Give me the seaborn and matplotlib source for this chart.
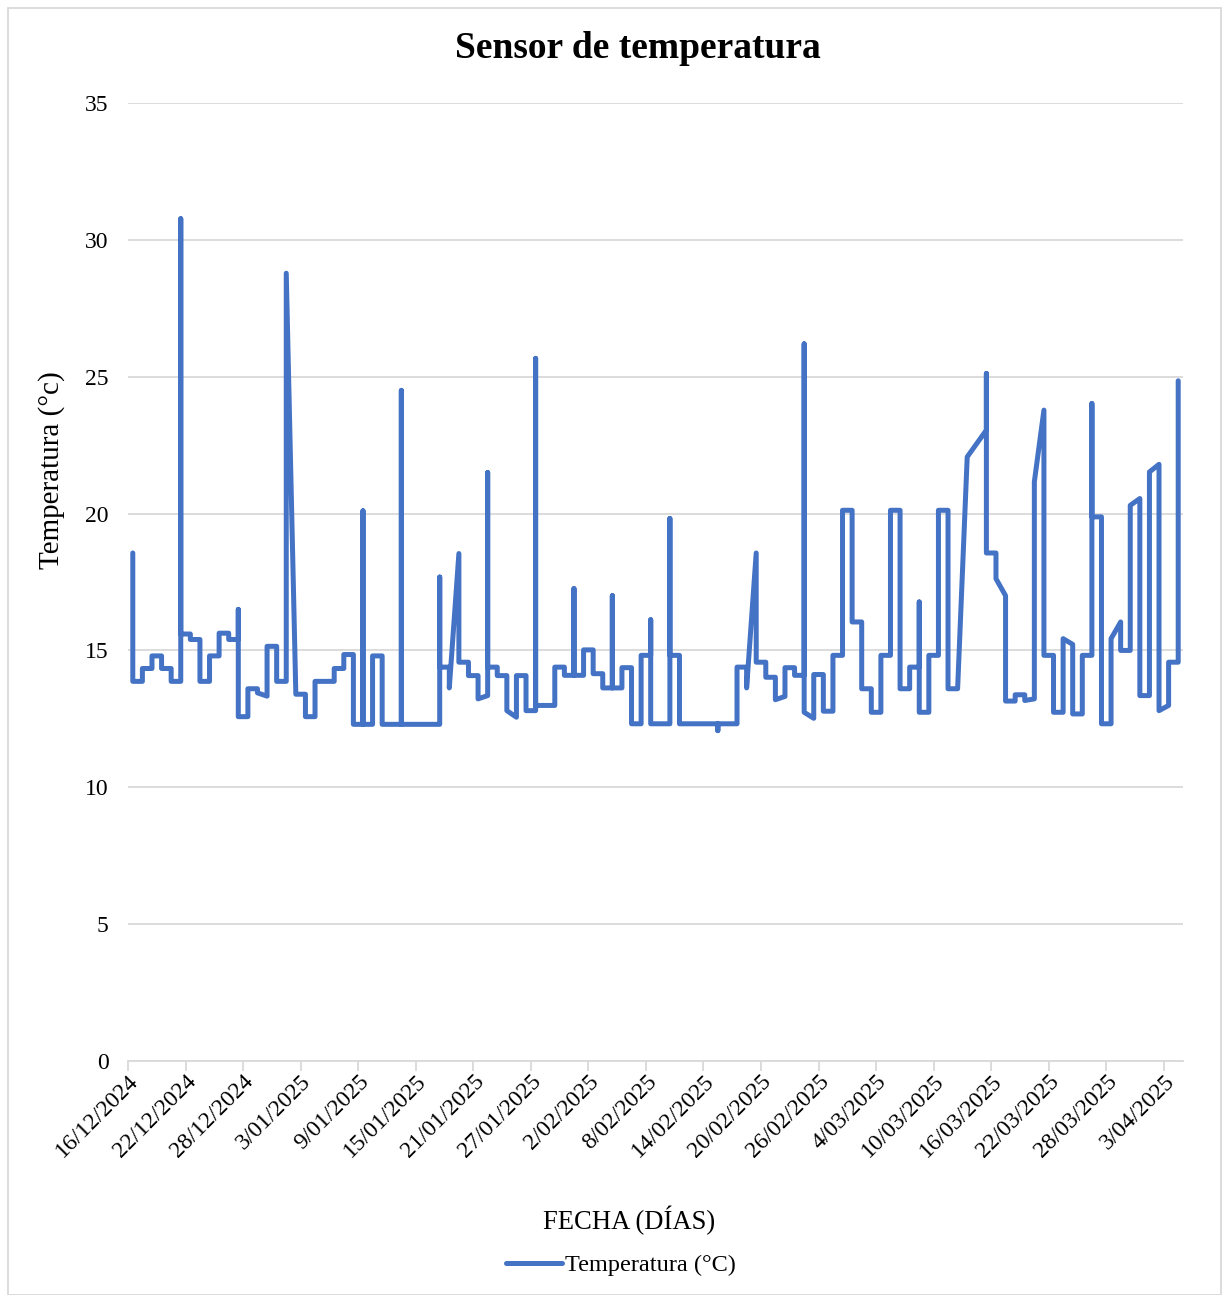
import numpy as np
import pandas as pd
import matplotlib
matplotlib.use("Agg")
import matplotlib.pyplot as plt
import seaborn as sns
from matplotlib.patches import Rectangle

# ---------------- data ----------------
start_date = "2024-12-16"
end_date = "2025-04-05"
tick_step_days = 6

# day offset from start_date for every reading (several readings may share a day)
day_offset = [
    0, 0, 1, 1, 2, 2, 3, 3, 4, 4,
    5, 5, 5, 6, 6, 7, 7, 8, 8, 9, 9, 10, 10,
    11, 11, 11, 12, 12, 13, 13, 14, 14, 15, 15, 16, 16,
    17, 18, 18, 19, 19, 20, 21, 21, 22, 22, 23, 23,
    24, 24, 24, 25, 25, 26, 26, 27, 28, 28, 28, 29, 30, 31,
    32, 32, 32, 33, 33, 34, 34, 35, 35, 36, 36, 37, 37, 37,
    38, 38, 39, 39, 40, 40, 41, 41, 42, 42, 42, 43, 44, 44,
    45, 45, 46, 46, 46, 47, 47, 48, 48, 49, 49, 50, 50, 50,
    51, 51, 52, 52, 53, 53, 54, 54, 54, 55, 56, 56, 56, 57, 57,
    58, 59, 60, 61, 61, 61, 62, 63, 63, 64, 64, 65, 65,
    66, 66, 67, 67, 68, 68, 69, 69, 70, 70, 70, 71, 71, 72, 72,
    73, 73, 74, 74, 74, 75, 75, 75, 75, 76, 76, 77, 77, 78, 78, 79, 79,
    80, 80, 81, 81, 82, 82, 82, 83, 83, 84, 84, 85, 85, 86,
    87, 89, 89, 89, 90, 90, 91, 91, 92, 92, 93, 93, 94, 94,
    95, 95, 96, 96, 97, 97, 98, 98, 99, 99, 100, 100, 100,
    101, 101, 102, 102, 103, 103, 104, 104, 105, 105, 106, 106,
    107, 107, 108, 108, 109, 109,
]
temps = [
    18.56, 13.87, 13.87, 14.34, 14.34, 14.80, 14.80, 14.34, 14.34, 13.87,
    13.87, 30.77, 15.60, 15.60, 15.40, 15.40, 13.87, 13.87, 14.80, 14.80, 15.63, 15.63, 15.40,
    15.40, 16.50, 12.58, 12.58, 13.60, 13.60, 13.45, 13.33, 15.15, 15.15, 13.87, 13.87, 28.78,
    13.40, 13.40, 12.58, 12.58, 13.87, 13.87, 13.87, 14.34, 14.34, 14.85, 14.85, 12.30,
    12.30, 20.10, 12.30, 12.30, 14.80, 14.80, 12.30, 12.30, 12.30, 24.50, 12.30, 12.30, 12.30, 12.30,
    12.30, 17.68, 14.39, 14.39, 13.63, 18.54, 14.57, 14.57, 14.08, 14.08, 13.23, 13.35, 21.50, 14.39,
    14.39, 14.08, 14.08, 12.80, 12.56, 14.08, 14.08, 12.80, 12.80, 25.67, 12.99, 12.99, 12.99, 14.39,
    14.39, 14.09, 14.09, 17.26, 14.09, 14.09, 15.02, 15.02, 14.15, 14.15, 13.63, 13.63, 17.00, 13.63,
    13.63, 14.37, 14.37, 12.32, 12.32, 14.82, 14.82, 16.12, 12.32, 12.32, 12.32, 19.82, 14.82, 14.82, 12.32,
    12.32, 12.32, 12.32, 12.32, 12.07, 12.32, 12.32, 12.32, 14.39, 14.39, 13.63, 18.56, 14.57,
    14.57, 14.02, 14.02, 13.20, 13.32, 14.37, 14.37, 14.09, 14.09, 26.20, 12.74, 12.52, 14.12, 14.12, 12.78,
    12.78, 14.82, 14.82, 17.90, 20.12, 20.12, 19.30, 20.12, 16.04, 16.04, 13.60, 13.60, 12.74, 12.74, 14.82, 14.82, 20.12,
    20.12, 13.60, 13.60, 14.39, 14.39, 16.77, 12.74, 12.74, 14.82, 14.82, 20.12, 20.12, 13.60, 13.60,
    22.07, 23.05, 25.12, 18.56, 18.56, 17.62, 17.00, 13.15, 13.15, 13.38, 13.38, 13.17, 13.23, 21.16,
    23.78, 14.82, 14.82, 12.74, 12.74, 15.43, 15.22, 12.68, 12.68, 14.82, 14.82, 24.02, 19.88,
    19.88, 12.32, 12.32, 15.43, 16.04, 15.00, 15.00, 20.30, 20.55, 13.35, 13.35, 21.52,
    21.80, 12.80, 12.99, 14.57, 14.57, 24.85,
]

title = "Sensor de temperatura"
x_label = "FECHA (DÍAS)"
y_label = "Temperatura (°c)"
series_name = "Temperatura (°C)"
y_ticks = [0, 5, 10, 15, 20, 25, 30, 35]

# ---------------- styling ----------------
sns.set_theme(style="white")
plt.rcParams["font.family"] = ["Liberation Serif", "DejaVu Serif"]
plt.rcParams["text.color"] = "black"
plt.rcParams["xtick.color"] = "black"
plt.rcParams["ytick.color"] = "black"

line_color = "#4472C4"
grid_color = "#D9D9D9"

W, H = 1227, 1295
fig = plt.figure(figsize=(W / 100, H / 100), dpi=100)
ax = fig.add_axes([128 / W, 1 - 1061 / H, (1183 - 128) / W, (1061 - 103) / H])

start = pd.Timestamp(start_date)
# readings are placed in the middle of their day (date axis "between tick marks")
dates = start + pd.to_timedelta(np.array(day_offset), unit="D") + pd.Timedelta(hours=12)
df = pd.DataFrame({"Fecha": dates, "Temperatura": temps})

sns.lineplot(data=df, x="Fecha", y="Temperatura", sort=False, estimator=None,
             color=line_color, linewidth=3.6, solid_capstyle="round",
             solid_joinstyle="round", label=series_name, ax=ax)

ax.set_xlim(start, pd.Timestamp(end_date))
ax.set_ylim(0, 35)
ax.set_yticks(y_ticks)
ax.yaxis.grid(True, color=grid_color, linewidth=1.3)
ax.xaxis.grid(False)
for s in ["top", "right", "left"]:
    ax.spines[s].set_visible(False)
ax.spines["bottom"].set_color(grid_color)
ax.spines["bottom"].set_linewidth(1.3)
ax.set_axisbelow(True)

xt = pd.date_range(start, pd.Timestamp(end_date), freq=f"{tick_step_days}D")
ax.set_xticks(xt)
ax.set_xticklabels([f"{d.day}/{d.month:02d}/{d.year}" for d in xt],
                   rotation=45, ha="right", va="top", rotation_mode="anchor",
                   fontsize=17, color="black")
ax.tick_params(axis="x", direction="out", length=7, width=1.3, color=grid_color,
               pad=0, bottom=True)
ax.tick_params(axis="y", length=0, pad=14, labelsize=17, labelcolor="black")
ax.set_xlabel("")
ax.set_ylabel("")

fig.text(638 / W, 1 - 48 / H, title, ha="center", va="center",
         fontsize=27, fontweight="bold", color="black")
fig.text(629 / W, 1 - 1220 / H, x_label, ha="center", va="center",
         fontsize=19.2, color="black")
fig.text(52 / W, 1 - 470 / H, y_label, ha="center", va="center",
         rotation=90, fontsize=21, color="black")

ax.get_legend().remove()
handles, labels = ax.get_legend_handles_labels()
fig.legend(handles, labels, loc="center", bbox_to_anchor=(621 / W, 1 - 1265 / H),
           frameon=False, fontsize=17.5, handlelength=2.3, handletextpad=0.1,
           labelcolor="black")

fig.patches.append(Rectangle((8 / W, 0), (1221 - 8) / W, 1 - 8 / H,
                             transform=fig.transFigure, fill=False,
                             edgecolor=grid_color, linewidth=1.3))

fig.savefig("out.png", dpi=100)
